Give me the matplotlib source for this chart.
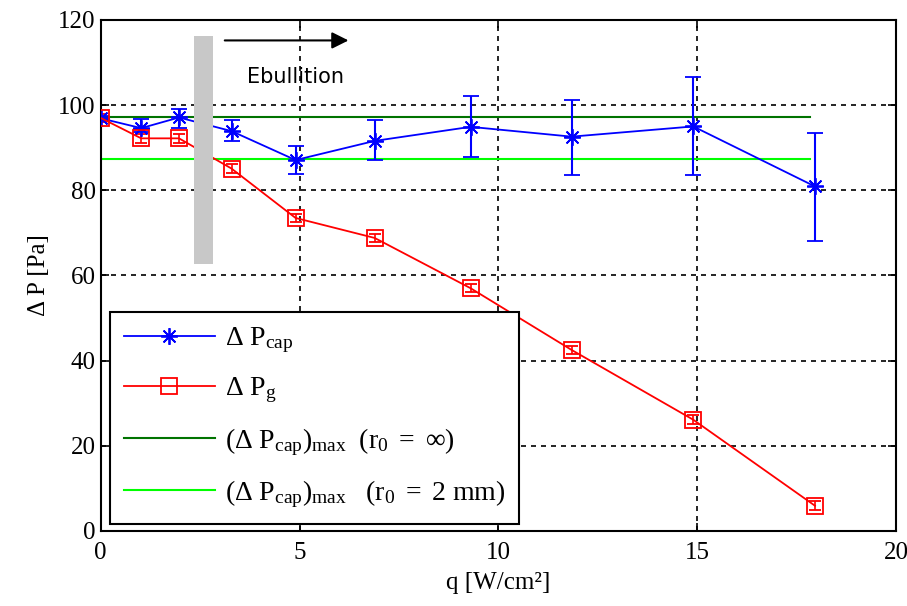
import matplotlib.pyplot as plt
from matplotlib.patches import Polygon
from matplotlib.lines import Line2D

plt.rcParams['font.family'] = ['Liberation Serif', 'DejaVu Serif']
plt.rcParams['mathtext.fontset'] = 'custom'
plt.rcParams['mathtext.rm'] = 'Liberation Serif'
plt.rcParams['mathtext.it'] = 'Liberation Serif:italic'

# heat flux [W/cm2]
q_cap = [0.0, 1.02, 1.97, 3.29, 4.9, 6.89, 9.3, 11.84, 14.9, 17.96]
dp_cap = [96.9, 94.6, 97.1, 93.9, 87.1, 91.6, 94.9, 92.6, 95.0, 80.9]
err_lo = [0.5, 0.9, 2.5, 2.4, 3.3, 4.5, 7.0, 9.0, 11.4, 12.8]
err_hi = [0.5, 2.1, 2.1, 2.5, 3.2, 4.8, 7.3, 8.5, 11.6, 12.6]

q_g = [0.0, 1.02, 1.97, 3.29, 4.9, 6.89, 9.3, 11.84, 14.9, 17.96]
dp_g = [97.0, 92.2, 92.2, 85.1, 73.5, 68.8, 57.0, 42.5, 26.1, 5.9]
err_g = [1.0, 1.0, 1.0, 1.0, 1.0, 1.0, 1.0, 1.0, 1.0, 1.0]

q_max = [0.0, 17.84]
dp_max_inf = [97.3, 97.3]
dp_max_2mm = [87.4, 87.4]

fig = plt.figure(figsize=(9.07, 6.06), dpi=100)
ax = fig.add_axes([0.111, 0.124, 0.877, 0.843])

ax.errorbar(q_cap, dp_cap, yerr=[err_lo, err_hi], color='blue', marker=(8, 2, 0),
            markersize=12, markeredgewidth=1.3, linewidth=1.3, capsize=6,
            elinewidth=1.5, capthick=1.5, zorder=3)
ax.errorbar(q_g, dp_g, yerr=err_g, color='red', marker='s', markersize=11.5,
            markerfacecolor='none', markeredgewidth=1.3, linewidth=1.3, capsize=4,
            elinewidth=1.2, capthick=1.2, zorder=3)
ax.plot(q_max, dp_max_inf, color=(0, 0.45, 0), linewidth=1.5, zorder=2)
ax.plot(q_max, dp_max_2mm, color=(0, 1, 0), linewidth=1.5, zorder=2)

# grey band marking onset of boiling
band = Polygon([(2.34, 116.3), (2.82, 116.3), (2.82, 62.6), (2.34, 62.6)],
               closed=True, facecolor='#c8c8c8', edgecolor='none', zorder=5)
ax.add_patch(band)
ax.annotate('', xy=(6.3, 115.2), xytext=(3.05, 115.2),
            arrowprops=dict(arrowstyle='-|>', color='black', lw=1.5, mutation_scale=25))
ax.text(4.9, 106.7, 'Ebullition', fontsize=15, family='DejaVu Sans', ha='center', va='center')

ax.set_xlim(0, 20)
ax.set_ylim(0, 120)
ax.set_xticks([0, 5, 10, 15, 20])
ax.set_yticks([0, 20, 40, 60, 80, 100, 120])
ax.grid(True, color='black', linestyle=(0, (3, 3)), linewidth=1.2)
ax.tick_params(direction='in', top=True, right=True, labelsize=18, length=6, width=1.2)
ax.tick_params(axis='x', pad=8)
for s in ax.spines.values():
    s.set_linewidth(1.5)

ax.set_xlabel('q [W/cm²]', fontsize=18, labelpad=6)
ax.set_ylabel('Δ P [Pa]', fontsize=18, labelpad=6)

handles = [
    Line2D([], [], color='blue', marker=(8, 2, 0), markersize=12, markeredgewidth=1.3, lw=1.3),
    Line2D([], [], color='red', marker='s', markersize=11.5, markerfacecolor='none',
           markeredgewidth=1.3, lw=1.3),
    Line2D([], [], color=(0, 0.45, 0), lw=1.5),
    Line2D([], [], color=(0, 1, 0), lw=1.5),
]
labels = [r'$\mathrm{\Delta\ P_{cap}}$', r'$\mathrm{\Delta\ P_g}$',
          r'$\mathrm{(\Delta\ P_{cap})_{max}\ \ (r_0\ =\ \infty)}$',
          r'$\mathrm{(\Delta\ P_{cap})_{max}\ \ \ (r_0\ =\ 2\ mm)}$']
leg = ax.legend(handles, labels, loc='lower left', bbox_to_anchor=(0.0113, 0.0137), fontsize=20,
                fancybox=False, edgecolor='black', framealpha=1, handlelength=3.3,
                labelspacing=0.74, borderpad=0.5, handletextpad=0.35, borderaxespad=0)
leg.get_frame().set_linewidth(1.5)
leg.set_zorder(10)

fig.savefig('out.png', dpi=100)
